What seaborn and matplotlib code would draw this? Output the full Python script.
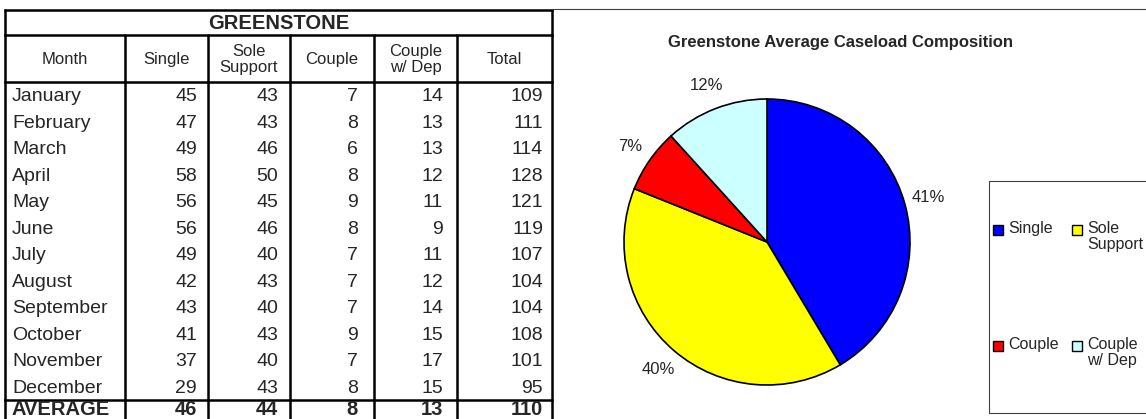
import matplotlib as mpl
import seaborn as sns
import numpy as np
plt = mpl.pyplot
from matplotlib.patches import Rectangle

sns.set_style("white")
mpl.rcParams['font.family'] = ['Liberation Sans', 'DejaVu Sans']

# Table data
months = ['January', 'February', 'March', 'April', 'May', 'June', 'July',
          'August', 'September', 'October', 'November', 'December']
single = [45, 47, 49, 58, 56, 56, 49, 42, 43, 41, 37, 29]
sole_support = [43, 43, 46, 50, 45, 46, 40, 43, 40, 43, 40, 43]
couple = [7, 8, 6, 8, 9, 8, 7, 7, 7, 9, 7, 8]
couple_dep = [14, 13, 13, 12, 11, 9, 11, 12, 14, 15, 17, 15]
total = [109, 111, 114, 128, 121, 119, 107, 104, 104, 108, 101, 95]
average = [46, 44, 8, 13, 110]

headers = ['Month', 'Single', 'Sole\nSupport', 'Couple', 'Couple\nw/ Dep', 'Total']
categories = ['Single', 'Sole\nSupport', 'Couple', 'Couple\nw/ Dep']
colors = ['#0000FF', '#FFFF00', '#FF0000', '#CCFFFF']

W, H = 1146, 419
fig = plt.figure(figsize=(W / 100, H / 100), dpi=100)

# overlay in pixel coords for table / frames
ov = fig.add_axes([0, 0, 1, 1])
ov.set_xlim(0, W)
ov.set_ylim(H, 0)
ov.axis('off')

cols = [5, 125, 208, 290, 374, 457, 552]
top, title_bot, head_bot, avg_top = 10, 35, 82, 400
row_h = (avg_top - head_bot) / len(months)
LW = 1.8

# horizontal lines
for y in [top, title_bot, head_bot, avg_top]:
    ov.plot([cols[0], cols[-1]], [y, y], color='black', lw=LW, solid_capstyle='projecting')
# vertical lines
ov.plot([cols[0], cols[0]], [top, H + 5], color='black', lw=LW)
ov.plot([cols[-1], cols[-1]], [top, H + 5], color='black', lw=LW)
for x in cols[1:-1]:
    ov.plot([x, x], [title_bot, H + 5], color='black', lw=LW)

ov.text((cols[0] + cols[-1]) / 2, (top + title_bot) / 2 + 1, 'GREENSTONE',
        ha='center', va='center', fontsize=14.5, fontweight='bold')
for i, h in enumerate(headers):
    ov.text((cols[i] + cols[i + 1]) / 2, (title_bot + head_bot) / 2 + 1, h,
            ha='center', va='center', fontsize=12, linespacing=1.1)

pads = [11, 12, 16, 14, 9]
table_cols = [single, sole_support, couple, couple_dep, total]
for r, m in enumerate(months):
    yc = head_bot + row_h * r + row_h / 2 + 1.5
    ov.text(cols[0] + 7, yc, m, ha='left', va='center', fontsize=14)
    for j, vals in enumerate(table_cols):
        ov.text(cols[j + 2] - pads[j], yc, str(vals[r]), ha='right', va='center', fontsize=14)

ya = 409
ov.text(cols[0] + 7, ya, 'AVERAGE', ha='left', va='center', fontsize=14.5, fontweight='bold')
for j, v in enumerate(average):
    ov.text(cols[j + 2] - pads[j], ya, str(v), ha='right', va='center',
            fontsize=14.5, fontweight='bold')

# chart frame top
ov.plot([cols[-1], W], [9, 9], color='#404040', lw=0.8)
ov.text(840, 42, 'Greenstone Average Caseload Composition', ha='center', va='center',
        fontsize=12, fontweight='bold')

# pie
cx, cy, r = 767, 242, 143
pa = fig.add_axes([(cx - r) / W, (H - cy - r) / H, 2 * r / W, 2 * r / H])
wedges, _, autotexts = pa.pie(average[:4], colors=colors, startangle=90, counterclock=False,
                              autopct='%1.0f%%', pctdistance=1.17,
                              wedgeprops=dict(edgecolor='black', linewidth=1.2),
                              textprops=dict(fontsize=12))
pa.set_xlim(-1, 1)
pa.set_ylim(-1, 1)
pa.set_aspect('equal')
for w in wedges:
    w.set_clip_on(False)

# legend box
lx, ltop, lbot = 989, 181, 413
ov.plot([W + 5, lx, lx, W + 5], [ltop, ltop, lbot, lbot], color='#404040', lw=0.8)
leg_pos = [(993, 230), (1072, 230), (993, 346), (1072, 346)]
for (x, y), lab, c in zip(leg_pos, categories, colors):
    ov.add_patch(Rectangle((x, y - 5), 10, 10, facecolor=c, edgecolor='black', lw=1.0))
    ov.text(x + 15, y - 9, lab, ha='left', va='top', fontsize=11.5, linespacing=1.05)

fig.savefig('out.png', dpi=100)
